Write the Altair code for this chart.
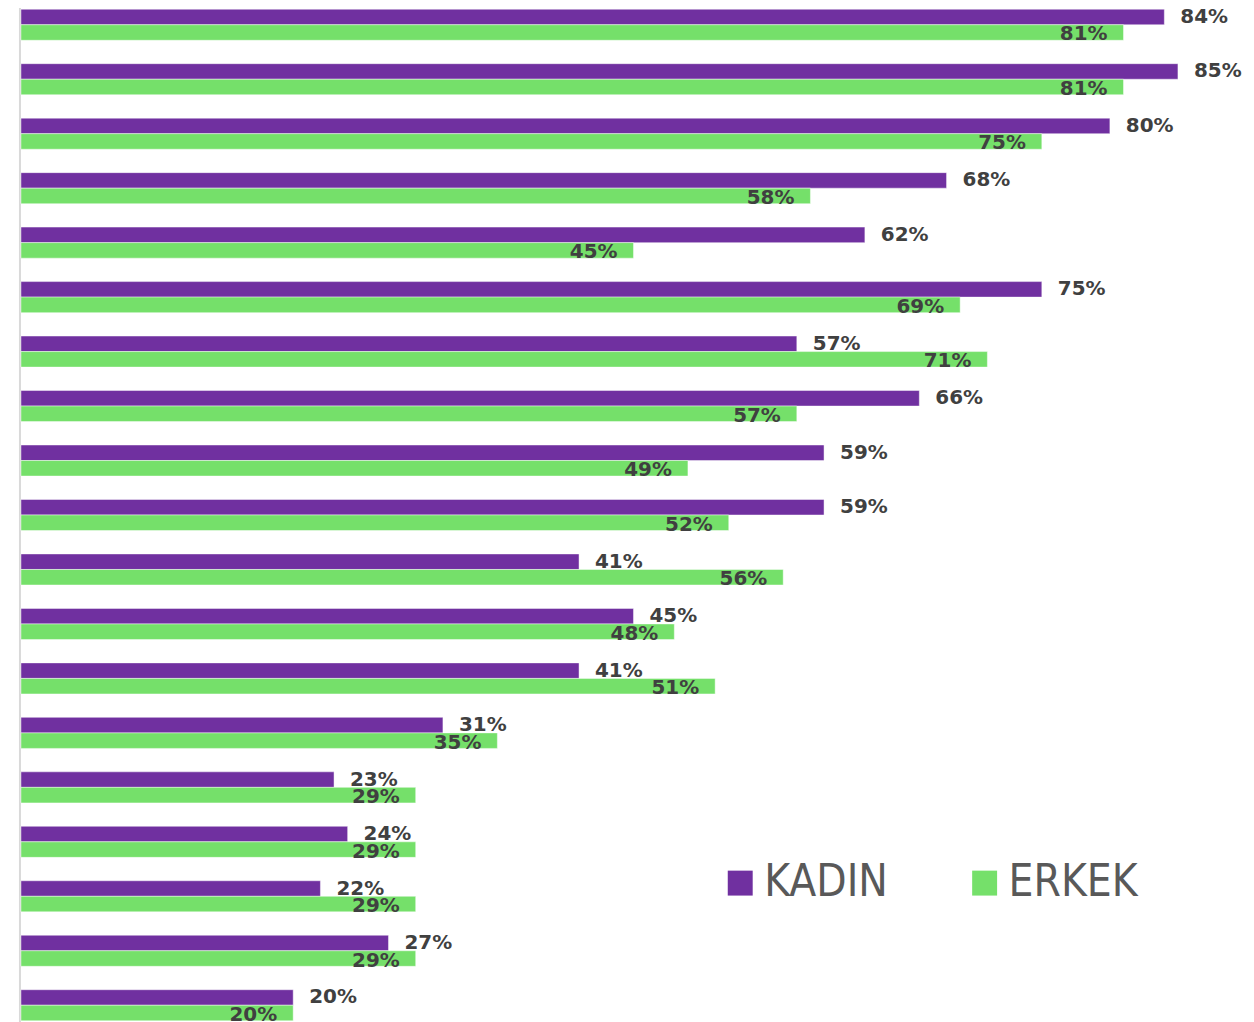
import altair as alt
import pandas as pd

categories = ["C01", "C02", "C03", "C04", "C05", "C06", "C07", "C08", "C09", "C10",
              "C11", "C12", "C13", "C14", "C15", "C16", "C17", "C18", "C19"]
kadin = [84, 85, 80, 68, 62, 75, 57, 66, 59, 59, 41, 45, 41, 31, 23, 24, 22, 27, 20]
erkek = [81, 81, 75, 58, 45, 69, 71, 57, 49, 52, 56, 48, 51, 35, 29, 29, 29, 29, 20]
series = ["KADIN", "ERKEK"]
colors = ["#7030A0", "#75E06A"]

rows = []
for c, k, e in zip(categories, kadin, erkek):
    rows.append({"cat": c, "sex": "KADIN", "v": k, "lab": f"{k}%"})
    rows.append({"cat": c, "sex": "ERKEK", "v": e, "lab": f"{e}%"})
df = pd.DataFrame(rows)

W, H = 1228, 1014
ys = alt.Y("cat:N", sort=categories, axis=None,
           scale=alt.Scale(paddingInner=0.43, paddingOuter=0))
yo = alt.YOffset("sex:N", sort=series, scale=alt.Scale(paddingInner=0, paddingOuter=0))
xs = alt.X("v:Q", axis=None, scale=alt.Scale(domain=[0, 90], nice=False, zero=True))

base = alt.Chart(df)

bars = base.mark_bar(strokeWidth=1, strokeOpacity=0.45).encode(
    x=xs, y=ys, yOffset=yo,
    color=alt.Color("sex:N", sort=series,
                    scale=alt.Scale(domain=series, range=colors),
                    legend=alt.Legend(title=None, orient="none", legendX=699, legendY=854,
                                      direction="horizontal", symbolType="square",
                                      symbolSize=625, symbolStrokeWidth=0,
                                      labelFontSize=44,
                                      labelFont="DejaVu Sans Condensed, DejaVu Sans",
                                      labelColor="#595959", labelOffset=2,
                                      columnPadding=74, labelLimit=400)),
    stroke=alt.value("#FFFFFF"),
)

t_k = base.transform_filter(alt.datum.sex == "KADIN").mark_text(
    align="left", baseline="middle", dx=16, fontSize=20, fontWeight="bold",
    font="DejaVu Sans", color="#404040").encode(x=xs, y=ys, yOffset=yo, text="lab:N")

t_e = base.transform_filter(alt.datum.sex == "ERKEK").mark_text(
    align="right", baseline="middle", dx=-16, dy=2, fontSize=20, fontWeight="bold",
    font="DejaVu Sans", color="#404040").encode(x=xs, y=ys, yOffset=yo, text="lab:N")

axis_line = alt.Chart(pd.DataFrame({"a": [0]})).mark_rule(color="#D9D9D9", strokeWidth=2).encode(
    x=alt.value(-1), y=alt.value(-8), y2=alt.value(H + 8))

chart = alt.layer(axis_line, bars, t_k, t_e).properties(
    width=W, height=H, autosize=alt.AutoSizeParams(type="none"),
    padding={"left": 13, "top": 0, "right": 0, "bottom": 0},
    background="#FFFFFF"
).configure_view(stroke=None)

chart.save("out.html", embed_options={"renderer": "svg", "actions": False})
